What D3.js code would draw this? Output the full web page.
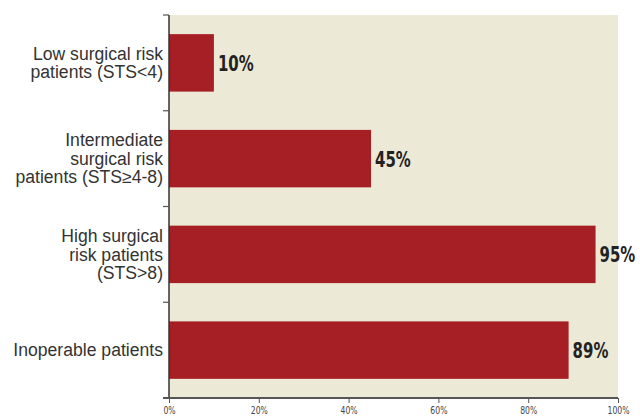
<!DOCTYPE html>
<html><head><meta charset="utf-8">
<script src="https://cdn.jsdelivr.net/npm/d3@7"></script>
<style>body{margin:0;background:#fff}</style>
</head><body>
<svg id="c" width="640" height="418"></svg>
<script>
const categories = [
  ["Low surgical risk", "patients (STS<4)"],
  ["Intermediate", "surgical risk", "patients (STS\u22654-8)"],
  ["High surgical", "risk patients", "(STS>8)"],
  ["Inoperable patients"]
];
const values = [10, 45, 95, 89];
const tickValues = [0, 20, 40, 60, 80, 100];

const svg = d3.select("#c");
const m = {left: 169, right: 618, top: 15, bottom: 398};
const x = d3.scaleLinear().domain([0, 100]).range([m.left, m.right]);
const y = d3.scaleBand().domain(d3.range(categories.length)).range([m.top, m.bottom]).paddingInner(0.4).paddingOuter(0.2);

svg.append("rect").attr("x", m.left).attr("y", m.top).attr("width", m.right - m.left).attr("height", m.bottom - m.top).attr("fill", "#ECE9D7");

svg.selectAll("rect.bar").data(values).join("rect").attr("class", "bar")
  .attr("x", x(0)).attr("y", (d, i) => y(i)).attr("width", d => x(d) - x(0)).attr("height", y.bandwidth())
  .attr("fill", "#A51F24");

svg.selectAll("text.val").data(values).join("text").attr("class", "val")
  .attr("transform", (d, i) => `translate(${x(d) + 4},${y(i) + y.bandwidth() / 2}) scale(0.68,1)`)
  .attr("dy", "0.36em")
  .attr("font-family", "'DejaVu Sans', sans-serif")
  .attr("font-weight", "bold").attr("font-size", 22).attr("fill", "#222")
  .text(d => d + "%");

// left axis
const bounds = d3.range(categories.length + 1).map(i => m.top + i * (m.bottom - m.top) / categories.length);
svg.append("line").attr("x1", m.left).attr("x2", m.left).attr("y1", m.top).attr("y2", m.bottom).attr("stroke", "#333").attr("stroke-width", 1.5);
svg.selectAll("line.lt").data(bounds).join("line").attr("class", "lt")
  .attr("x1", m.left - 6).attr("x2", m.left).attr("y1", d => d).attr("y2", d => d).attr("stroke", "#555").attr("stroke-width", 1.2);

// category labels
categories.forEach((lines, i) => {
  const cy = y(i) + y.bandwidth() / 2;
  const lh = 18.5;
  const t = svg.append("text").attr("text-anchor", "end")
    .attr("font-family", "'Liberation Sans', Arial, sans-serif").attr("font-size", 17.6).attr("fill", "#333");
  lines.forEach((ln, j) => {
    t.append("tspan").attr("x", m.left - 6).attr("y", cy + (j - (lines.length - 1) / 2) * lh).attr("dy", "0.35em").text(ln);
  });
});

// bottom axis
const xa = svg.append("g").attr("transform", `translate(0,${m.bottom})`)
  .call(d3.axisBottom(x).tickValues(tickValues).tickFormat(d => d + "%").tickSize(5));
xa.select(".domain").attr("stroke", "#555").attr("stroke-width", 2).attr("d", `M${m.left - 6},0H${m.right}`);
xa.selectAll(".tick line").attr("stroke", "#555");
xa.selectAll(".tick text").attr("font-family", "'DejaVu Sans', sans-serif").attr("font-size", 11).attr("fill", "#444")
  .attr("y", 0).attr("dy", 0).attr("transform", "translate(0,16) scale(0.7,1)");
</script>
</body></html>
